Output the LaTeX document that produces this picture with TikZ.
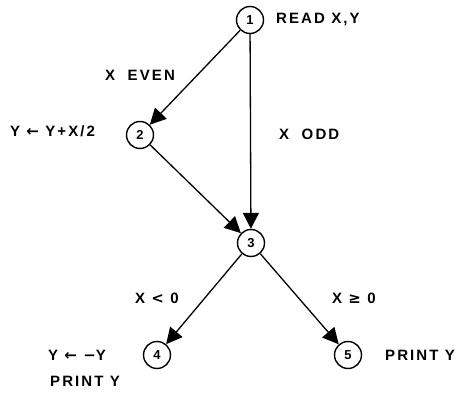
\documentclass[tikz,border=0pt]{standalone}
\usepackage{fontspec}
\setmainfont[LetterSpace=14]{Liberation Sans}
\newfontfamily\symfont[LetterSpace=14]{DejaVu Sans}
\usetikzlibrary{arrows.meta}
\begin{document}
\begin{tikzpicture}[x=1pt,y=1pt,
  state/.style={circle,draw,line width=1.4pt,minimum size=27pt,inner sep=0pt,font=\bfseries\fontsize{13}{13}\selectfont},
  lbl/.style={anchor=west,inner sep=0pt,font=\bfseries\fontsize{15}{15}\selectfont},
  flow/.style={line width=1.3pt,-{Triangle[length=16pt,width=16pt]}}]
\useasboundingbox (0,0) rectangle (465,393);
\node[state] (n1) at (250,373) {1};
\node[state] (n2) at (140,258) {2};
\node[state] (n3) at (251,150) {3};
\node[state] (n4) at (157,38) {4};
\node[state] (n5) at (348,38) {5};
\node[lbl] (t1) at (276,373) {READ X,Y};
\node[lbl] (t2) at (105,318) {X\ \ EVEN};
\node[lbl] (t3) at (10,262) {Y {\symfont ←} Y+X/2};
\node[lbl] (t4) at (279,259) {X\ \ ODD};
\node[lbl] (t5) at (135,95) {X {\symfont <} 0};
\node[lbl] (t6) at (332,95) {X {\symfont ≥} 0};
\node[lbl] (t7) at (48,38) {Y {\symfont ←} {\symfont −}Y};
\node[lbl] (t8) at (50,12) {PRINT Y};
\node[lbl] (t9) at (385,38) {PRINT Y};
\draw[flow] (n1) -- (n2);
\draw[flow] (n1) -- (n3);
\draw[flow] (n2) -- (n3);
\draw[flow] (n3) -- (n4);
\draw[flow] (n3) -- (n5);
\end{tikzpicture}
\end{document}
